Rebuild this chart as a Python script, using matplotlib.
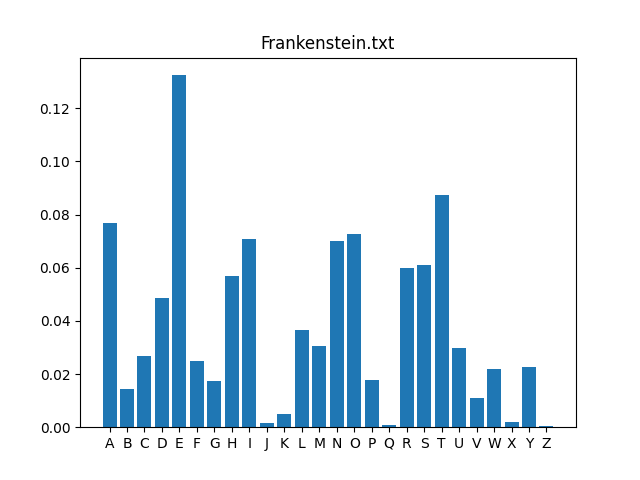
import matplotlib
matplotlib.use("Agg")
import matplotlib.pyplot as plt

letters = list("ABCDEFGHIJKLMNOPQRSTUVWXYZ")
freqs = [0.0767, 0.0143, 0.0267, 0.0485, 0.1324, 0.0248, 0.0173, 0.0568, 0.0707,
         0.0015, 0.0049, 0.0365, 0.0305, 0.0700, 0.0726, 0.0177, 0.0008, 0.0598,
         0.0610, 0.0873, 0.0297, 0.0109, 0.0218, 0.0019, 0.0226, 0.0004]

fig, ax = plt.subplots(figsize=(6.4, 4.8), dpi=100)
ax.bar(letters, freqs)
ax.set_title("Frankenstein.txt")
fig.savefig("out.png")
